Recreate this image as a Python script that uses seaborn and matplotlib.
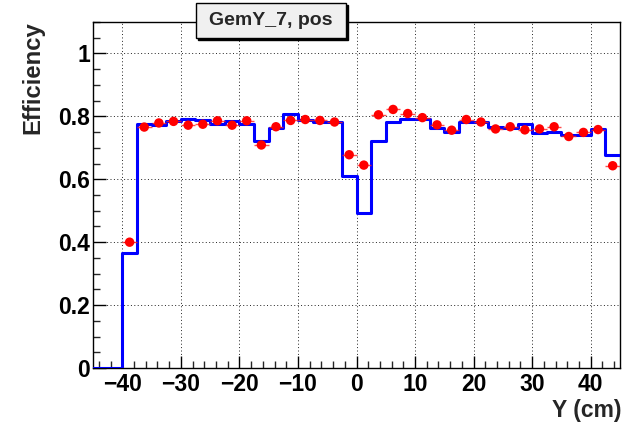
import numpy as np
import pandas as pd
import matplotlib
matplotlib.use("Agg")
import matplotlib.pyplot as plt
import seaborn as sns
from matplotlib.patches import Rectangle
from matplotlib.ticker import MultipleLocator

# ---- data ----
bin_edges = np.arange(-45, 45.01, 2.5)
bin_centers = (bin_edges[:-1] + bin_edges[1:]) / 2

hist_eff = [0.0, 0.0, 0.367, 0.776, 0.771, 0.785, 0.792, 0.787, 0.775, 0.784,
            0.776, 0.722, 0.762, 0.806, 0.788, 0.781, 0.782, 0.610, 0.493, 0.722,
            0.783, 0.792, 0.792, 0.762, 0.749, 0.781, 0.781, 0.767, 0.762, 0.775,
            0.747, 0.751, 0.740, 0.740, 0.759, 0.676]

point_eff = [np.nan, np.nan, 0.400, 0.766, 0.779, 0.784, 0.772, 0.775, 0.786, 0.772,
             0.786, 0.709, 0.767, 0.787, 0.790, 0.787, 0.782, 0.678, 0.645, 0.805,
             0.822, 0.809, 0.796, 0.773, 0.756, 0.790, 0.782, 0.760, 0.767, 0.757,
             0.760, 0.767, 0.736, 0.749, 0.758, 0.643]

title_text = "GemY_7, pos"
x_label = "Y (cm)"
y_label = "Efficiency"

step_df = pd.DataFrame({"y": bin_edges, "eff": list(hist_eff) + [hist_eff[-1]]})
pts_df = pd.DataFrame({"y": bin_centers, "eff": point_eff}).dropna()

# ---- style ----
sns.set_theme(style="white")
plt.rcParams['font.family'] = ['Liberation Sans', 'DejaVu Sans']
plt.rcParams['font.weight'] = 'bold'

fig = plt.figure(figsize=(6.23, 4.23), dpi=100)
ax = fig.add_axes([93/623, 1-368/423, (620-93)/623, (368-22)/423])

sns.lineplot(data=step_df, x="y", y="eff", drawstyle="steps-post",
             color="#0000ff", linewidth=2.2, ax=ax, zorder=3)

ax.errorbar(pts_df["y"], pts_df["eff"], xerr=1.25, yerr=0.004, fmt='none',
            ecolor='#ff2020', elinewidth=1.0, capsize=0, zorder=4, alpha=0.8)
sns.scatterplot(data=pts_df, x="y", y="eff", color='#ff0000', s=46, edgecolor='none',
                ax=ax, zorder=5)

ax.set_xlim(-45, 45)
ax.set_ylim(0, 1.1)
ax.set_xlabel("")
ax.set_ylabel("")

ax.xaxis.set_major_locator(MultipleLocator(10))
ax.xaxis.set_minor_locator(MultipleLocator(2))
ax.yaxis.set_major_locator(MultipleLocator(0.2))
ax.yaxis.set_minor_locator(MultipleLocator(0.05))
ax.yaxis.set_major_formatter(matplotlib.ticker.FuncFormatter(
    lambda v, p: "0" if abs(v) < 1e-9 else ("1" if abs(v-1) < 1e-9 else f"{v:.1f}")))

ax.tick_params(axis='both', which='major', direction='in', length=9, width=1,
               labelsize=16.5, colors='black', bottom=True, left=True, top=False, right=False)
ax.tick_params(axis='both', which='minor', direction='in', length=5, width=1,
               bottom=True, left=True, top=False, right=False)
ax.tick_params(axis='x', which='major', pad=3.5)
ax.tick_params(axis='y', which='major', pad=2)
for lbl in ax.get_xticklabels() + ax.get_yticklabels():
    lbl.set_fontweight('bold')

ax.grid(True, which='major', linestyle=(0, (1, 2.5)), color='#222222', linewidth=0.7)
ax.set_axisbelow(True)
for sp in ax.spines.values():
    sp.set_color('black')
    sp.set_linewidth(1.0)

fig.text(0.053, 1-21/423, y_label, rotation=90, ha='center', va='top',
         fontsize=17.2, fontweight='bold')
fig.text(621/623, 1/423, x_label, ha='right', va='bottom',
         fontsize=16.5, fontweight='bold')

# title box with shadow
bx0, by0, bw, bh = 196/623, 1-38/423, 150/623, 35/423
shadow = Rectangle((bx0 + 2/623, by0 - 2/423), bw, bh, transform=fig.transFigure,
                   facecolor='black', edgecolor='black', zorder=9)
box = Rectangle((bx0, by0), bw, bh, transform=fig.transFigure,
                facecolor='#f0f0f0', edgecolor='black', linewidth=1.0, zorder=10)
fig.patches.extend([shadow, box])
fig.text(bx0 + bw/2, by0 + bh/2, title_text, ha='center', va='center',
         fontsize=14, fontweight='bold', zorder=11)

fig.savefig("out.png", dpi=100)
